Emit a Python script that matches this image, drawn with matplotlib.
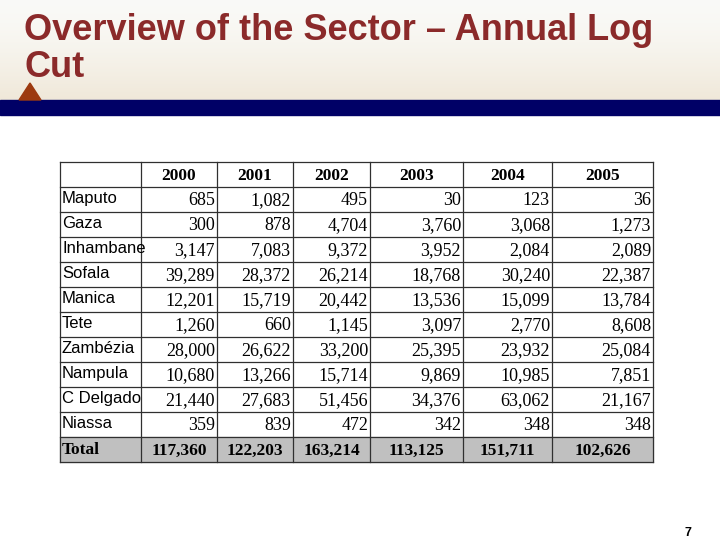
import numpy as np
import matplotlib
matplotlib.use('Agg')
import matplotlib.pyplot as plt
from matplotlib.patches import Rectangle, Polygon

title = 'Overview of the Sector \u2013 Annual Log\nCut'
years = ['2000', '2001', '2002', '2003', '2004', '2005']
provinces = ['Maputo', 'Gaza', 'Inhambane', 'Sofala', 'Manica', 'Tete',
             'Zamb\u00e9zia', 'Nampula', 'C Delgado', 'Niassa']
y2000 = [685, 300, 3147, 39289, 12201, 1260, 28000, 10680, 21440, 359]
y2001 = [1082, 878, 7083, 28372, 15719, 660, 26622, 13266, 27683, 839]
y2002 = [495, 4704, 9372, 26214, 20442, 1145, 33200, 15714, 51456, 472]
y2003 = [30, 3760, 3952, 18768, 13536, 3097, 25395, 9869, 34376, 342]
y2004 = [123, 3068, 2084, 30240, 15099, 2770, 23932, 10985, 63062, 348]
y2005 = [36, 1273, 2089, 22387, 13784, 8608, 25084, 7851, 21167, 348]
totals = [117360, 122203, 163214, 113125, 151711, 102626]
page_no = '7'

# layout (pixels)
col_edges = [60, 141, 217, 293, 370, 463, 552, 653]
top = 162
rh = 25

fig = plt.figure(figsize=(7.2, 5.4), dpi=100)
ax = fig.add_axes([0, 0, 1, 1])
ax.set_xlim(0, 720)
ax.set_ylim(540, 0)
ax.axis('off')

# header background gradient
grad = np.linspace(0, 1, 100).reshape(-1, 1)
c0 = np.array([0.98, 0.98, 0.97])
c1 = np.array([0.94, 0.91, 0.85])
img = c0 + (c1 - c0) * grad[:, :, None] ** 1.5
ax.imshow(img * np.ones((1, 10, 1)), extent=[0, 720, 100, 0], aspect='auto', zorder=0)
ax.add_patch(Rectangle((0, 100), 720, 15, color='#000066', zorder=1))
ax.add_patch(Polygon([[19, 100], [30, 83], [41, 100]], closed=True, color='#9C3A10', zorder=2))

ax.text(24, 13, title, fontsize=26, fontweight='bold', family='Liberation Sans',
        color='#8B2A2A', va='top', ha='left', linespacing=1.08)

# table
cols = [y2000, y2001, y2002, y2003, y2004, y2005]
n = len(provinces)
bottom = top + rh * (n + 2)
ax.add_patch(Rectangle((col_edges[0], top + rh * (n + 1)), col_edges[-1] - col_edges[0], rh,
                       color='#C0C0C0', zorder=1))
for i in range(n + 3):
    y = top + rh * i
    ax.plot([col_edges[0], col_edges[-1]], [y, y], color='#303030', lw=0.9, zorder=3)
for x in col_edges:
    ax.plot([x, x], [top, bottom], color='#303030', lw=0.9, zorder=3)

for j, yr in enumerate(years):
    xc = (col_edges[j + 1] + col_edges[j + 2]) / 2
    ax.text(xc, top + rh / 2 + 1, yr, fontsize=12.5, fontweight='bold', family='Liberation Serif',
            ha='center', va='center', zorder=4)

for i, p in enumerate(provinces):
    yc = top + rh * (i + 1) + rh / 2
    ax.text(col_edges[0] + 2, yc - 1, p, fontsize=12, family='Liberation Sans',
            ha='left', va='center', zorder=4)
    for j, c in enumerate(cols):
        ax.text(col_edges[j + 2] - 2, yc + 1, f'{c[i]:,}', fontsize=13, family='Liberation Serif',
                ha='right', va='center', zorder=4)

yc = top + rh * (n + 1) + rh / 2
ax.text(col_edges[0] + 2, yc + 1, 'Total', fontsize=12.5, fontweight='bold', family='Liberation Serif',
        ha='left', va='center', zorder=4)
for j, t in enumerate(totals):
    xc = (col_edges[j + 1] + col_edges[j + 2]) / 2
    ax.text(xc, yc + 1, f'{t:,}', fontsize=12.5, fontweight='bold', family='Liberation Serif',
            ha='center', va='center', zorder=4)

ax.text(688, 533, page_no, fontsize=9, fontweight='bold', family='Liberation Sans',
        ha='center', va='center')

fig.savefig('out.png', dpi=100)
